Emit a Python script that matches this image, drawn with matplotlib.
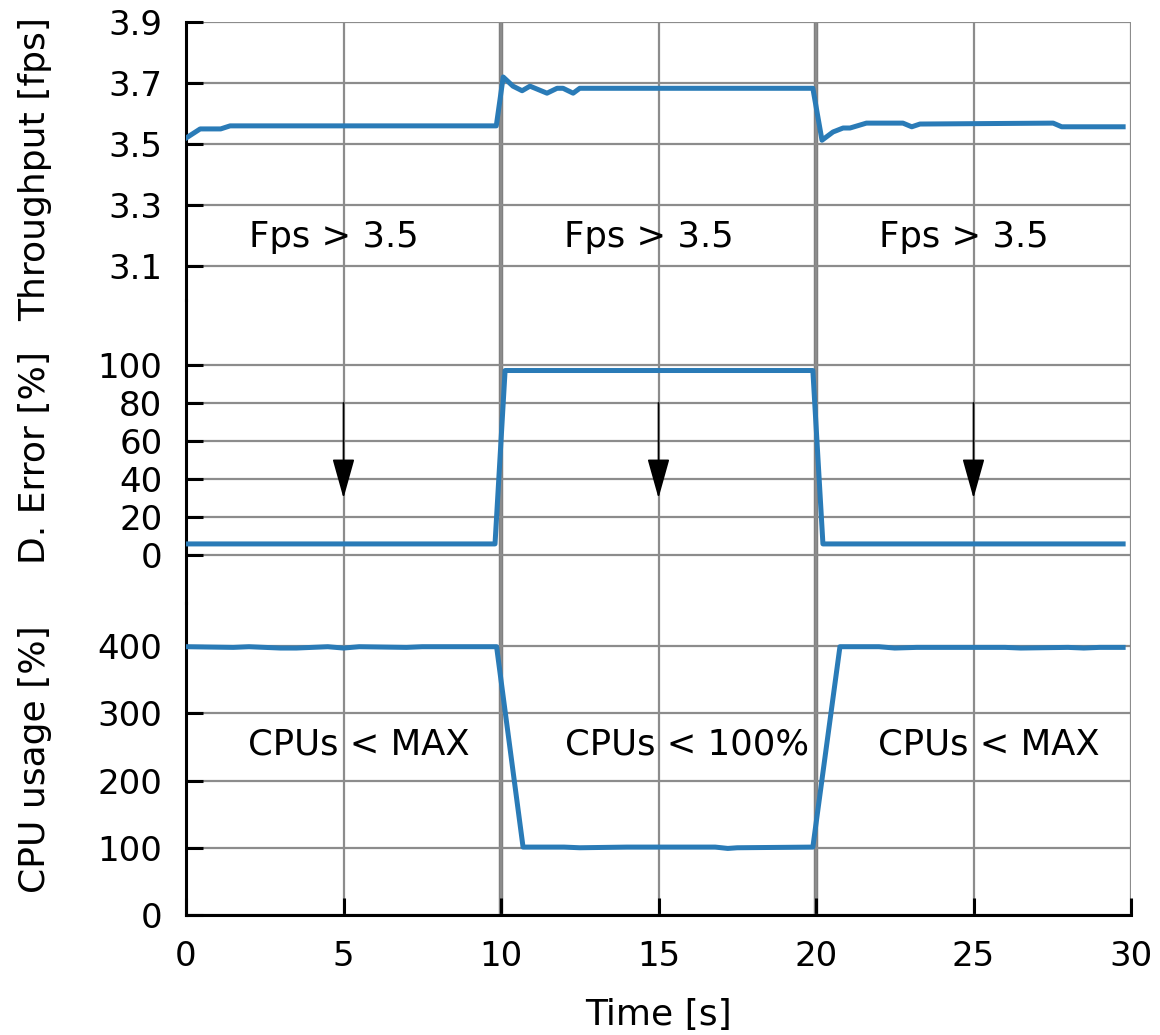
import matplotlib
matplotlib.use("Agg")
import matplotlib.pyplot as plt

# throughput samples (time in s, frames per second)
t_fps = [0.0, 0.45, 1.1, 1.4, 9.85, 10.07, 10.38, 10.67, 10.92, 11.46, 11.78,
         11.97, 12.29, 12.5, 19.9, 20.19, 20.54, 20.86, 21.08, 21.6, 22.76,
         23.04, 23.3, 27.53, 27.8, 29.75]
fps = [3.52, 3.55, 3.55, 3.56, 3.56, 3.72, 3.69, 3.675, 3.69, 3.667, 3.683,
       3.683, 3.667, 3.683, 3.683, 3.513, 3.54, 3.553, 3.553, 3.569, 3.569,
       3.557, 3.566, 3.569, 3.557, 3.557]

# detection error (%)
t_err = [0.0, 9.81, 10.13, 19.9, 20.22, 29.75]
err = [6, 6, 97, 97, 6, 6]

# cpu usage (%)
t_cpu = [0.0, 1.5, 2.0, 3.0, 3.5, 4.5, 5.0, 5.5, 7.0, 7.5, 9.86, 10.7, 12.0,
         12.5, 14.0, 16.8, 17.2, 17.5, 19.9, 20.76, 22.0, 22.5, 23.2, 24.0,
         26.0, 26.5, 28.0, 28.5, 29.0, 29.75]
cpu = [399, 398, 399, 397, 397, 399, 397, 399, 398, 399, 399, 101, 101,
       100, 101, 101, 99, 100, 101, 399, 399, 397, 398, 398, 398, 397, 398,
       397, 398, 398]

x_ticks = [0, 5, 10, 15, 20, 25, 30]
phases = [10, 20]
fps_labels = ["Fps > 3.5", "Fps > 3.5", "Fps > 3.5"]
fps_label_x = [4.7, 14.7, 24.7]
cpu_labels = ["CPUs < MAX", "CPUs < 100%", "CPUs < MAX"]
cpu_label_x = [5.5, 15.9, 25.5]
arrow_x = [5, 15, 25]

FS_TICK = 24.5
FS_TEXT = 25.5
FS_LABEL = 26
LINE = "#2a7bb7"
GRID = "#8c8c8c"

W, H = 1160, 1035
fig = plt.figure(figsize=(W / 100, H / 100), dpi=100)


def make_axes(top_px, bottom_px):
    left, right = 186, 1131
    return fig.add_axes([left / W, 1 - bottom_px / H, (right - left) / W,
                         (bottom_px - top_px) / H])


ax1 = make_axes(22, 300)
ax2 = make_axes(300, 603)
ax3 = make_axes(603, 915)
axes = [ax1, ax2, ax3]

limits = [(2.99, 3.9), (-25, 134), (0, 464)]
yticks = [[3.1, 3.3, 3.5, 3.7, 3.9], [0, 20, 40, 60, 80, 100],
          [0, 100, 200, 300, 400]]
ylabels = ["Throughput [fps]", "D. Error [%]", "CPU usage [%]"]
label_y = [0.47, 0.48, 0.5]

for ax, lim, yt, yl, ly in zip(axes, limits, yticks, ylabels, label_y):
    ax.set_xlim(0, 30)
    ax.set_ylim(*lim)
    ax.set_xticks(x_ticks)
    ax.set_yticks(yt)
    ax.set_yticklabels([f"{v:g}" for v in yt])
    ax.grid(True, color=GRID, lw=1.6, zorder=0)
    for v in phases:
        ax.axvline(v, color="#7f7f7f", lw=3.2, zorder=1)
    for s in ["top", "right", "bottom"]:
        ax.spines[s].set_visible(False)
    ax.spines["left"].set_linewidth(2.2)
    ax.spines["left"].set_color("black")
    ax.tick_params(axis="y", direction="in", length=12, width=2.2,
                   labelsize=FS_TICK, pad=17)
    ax.tick_params(axis="x", direction="in", length=12, width=2.2,
                   labelsize=FS_TICK, pad=18)
    ax.set_ylabel(yl, fontsize=FS_LABEL)
    ax.yaxis.set_label_coords(-0.142, ly)
    ax.set_facecolor("none")

for ax in [ax1, ax2]:
    ax.tick_params(axis="x", bottom=False, labelbottom=False)

ax3.spines["bottom"].set_visible(True)
ax3.spines["bottom"].set_linewidth(2.2)
ax3.spines["bottom"].set_color("black")

ax1.plot(t_fps, fps, color=LINE, lw=3.6, zorder=3)
ax2.plot(t_err, err, color=LINE, lw=3.6, zorder=3)
ax3.plot(t_cpu, cpu, color=LINE, lw=3.6, zorder=3)

for x, txt in zip(fps_label_x, fps_labels):
    ax1.text(x, 3.195, txt, fontsize=FS_TEXT, ha="center", va="center", zorder=4)
for x, txt in zip(cpu_label_x, cpu_labels):
    ax3.text(x, 253, txt, fontsize=FS_TEXT, ha="center", va="center", zorder=4)
for x in arrow_x:
    ax2.annotate("", xy=(x, 30), xytext=(x, 80),
                 arrowprops=dict(arrowstyle="-|>,head_length=1.25,head_width=0.35",
                                 color="black", lw=1.2, mutation_scale=20,
                                 shrinkA=0, shrinkB=0), zorder=4)

ax3.set_xlabel("Time [s]", fontsize=FS_LABEL)
ax3.xaxis.set_label_coords(0.5, -0.265)

fig.savefig("out.png", dpi=100)
